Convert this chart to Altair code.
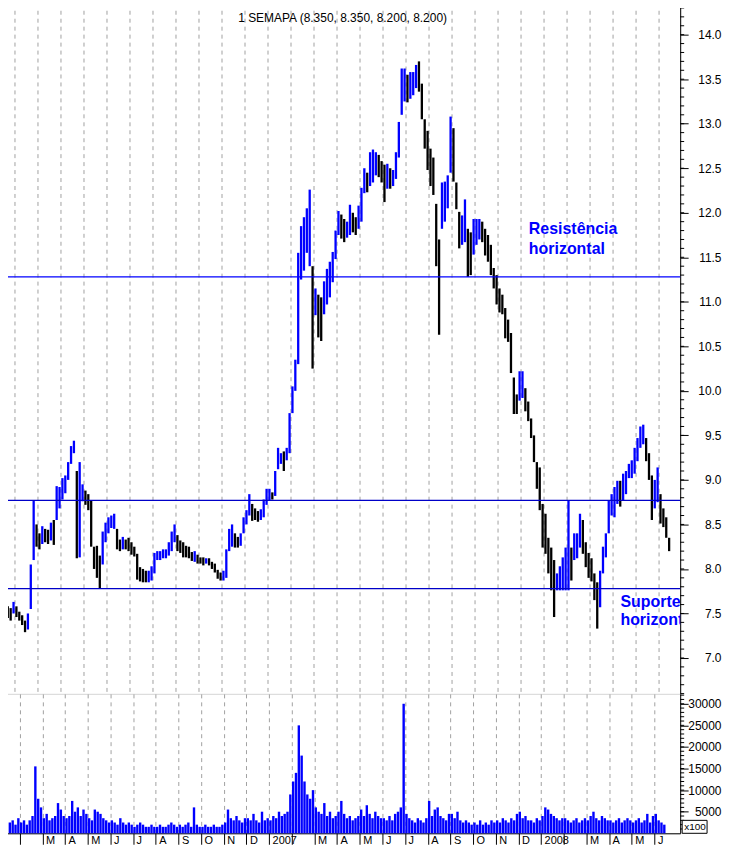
import json
import altair as alt
import pandas as pd

# ---------------- data ----------------
# one slot = 1/8 month; slot k is centred at month (k+0.5)/8, month 0 = Jan 2006
FIRST_SLOT = 4
SLOTS_PER_MONTH = 8

LOW = [
    7.50, 7.45, 7.42, 7.50,                                   # Jan 06
    7.46, 7.42, 7.37, 7.29, 7.32, 7.55, 8.10, 8.25,           # Feb 06
    8.22, 8.28, 8.30, 8.28, 8.32, 8.27, 8.55, 8.68,           # Mar 06
    8.78, 8.85, 9.00, 9.18, 9.30, 8.12, 8.13, 8.76,           # Apr 06
    8.72, 8.66, 8.25, 8.00, 7.90, 7.78, 8.05, 8.30,           # May 06
    8.40, 8.46, 8.45, 8.22, 8.20, 8.22, 8.22, 8.20,           # Jun 06
    8.16, 8.14, 7.88, 7.86, 7.85, 7.85, 7.85, 7.87,           # Jul 06
    7.95, 8.10, 8.10, 8.12, 8.12, 8.15, 8.20, 8.30,           # Aug 06
    8.20, 8.18, 8.13, 8.13, 8.12, 8.09, 8.08, 8.06,           # Sep 06
    8.06, 8.04, 8.06, 8.04, 8.00, 7.96, 7.89, 7.87,           # Oct 06
    7.87, 7.90, 8.20, 8.25, 8.24, 8.24, 8.26, 8.40,           # Nov 06
    8.50, 8.60, 8.54, 8.55, 8.53, 8.55, 8.58, 8.72,           # Dec 06
    8.77, 8.78, 8.82, 9.12, 9.18, 9.10, 9.22, 9.30,           # Jan 07
    9.75, 10.00, 10.30, 11.25, 11.35, 11.55, 11.40, 10.25,    # Feb 07
    10.85, 10.60, 10.56, 10.86, 10.97, 11.05, 11.22, 11.48,   # Mar 07
    11.75, 11.71, 11.67, 11.72, 11.75, 11.78, 11.75, 11.82,   # Apr 07
    11.90, 12.22, 12.23, 12.30, 12.34, 12.42, 12.40, 12.34,   # May 07
    12.12, 12.27, 12.27, 12.30, 12.38, 12.62, 13.10, 13.25,   # Jun 07
    13.24, 13.28, 13.32, 13.40, 13.36, 13.05, 12.72, 12.48,   # Jul 07
    12.30, 12.20, 11.40, 10.63, 11.82, 11.90, 12.05, 12.45,   # Aug 07
    12.35, 12.04, 11.60, 11.64, 11.67, 11.28, 11.30, 11.53,   # Sep 07
    11.64, 11.70, 11.67, 11.52, 11.45, 11.30, 11.15, 10.97,   # Oct 07
    10.88, 10.86, 10.59, 10.55, 10.20, 9.74, 9.74, 9.89,      # Nov 07
    9.92, 9.77, 9.66, 9.47, 9.20, 8.90, 8.66, 8.24,           # Dec 07
    8.17, 7.95, 7.76, 7.46, 7.76, 7.76, 7.76, 7.76,           # Jan 08
    7.76, 7.87, 8.10, 8.12, 8.24, 8.17, 8.02, 7.90,           # Feb 08
    7.86, 7.65, 7.33, 7.57, 7.95, 8.13, 8.40, 8.60,           # Mar 08
    8.58, 8.73, 8.70, 8.77, 8.84, 9.02, 9.02, 9.07,           # Apr 08
    9.21, 9.36, 9.40, 9.21, 9.00, 8.55, 8.68, 8.75,           # May 08
    8.51, 8.47, 8.35, 8.20,                                   # Jun 08
]

HIGH = [
    7.68, 7.58, 7.56, 7.63,
    7.58, 7.52, 7.48, 7.42, 7.50, 8.05, 8.77, 8.50,
    8.40, 8.48, 8.45, 8.44, 8.52, 8.55, 8.93, 8.92,
    9.02, 9.05, 9.20, 9.38, 9.44, 9.10, 9.20, 8.95,
    8.88, 8.84, 8.77, 8.25, 8.26, 8.15, 8.42, 8.52,
    8.58, 8.60, 8.62, 8.45, 8.33, 8.36, 8.33, 8.35,
    8.30, 8.25, 8.17, 8.02, 8.00, 7.98, 7.98, 8.03,
    8.18, 8.20, 8.20, 8.22, 8.22, 8.30, 8.42, 8.50,
    8.38, 8.32, 8.30, 8.26, 8.25, 8.19, 8.20, 8.16,
    8.13, 8.13, 8.12, 8.12, 8.08, 8.06, 7.99, 7.96,
    7.98, 8.22, 8.45, 8.50, 8.40, 8.36, 8.40, 8.58,
    8.66, 8.84, 8.73, 8.68, 8.65, 8.67, 8.78, 8.90,
    8.90, 8.86, 9.10, 9.36, 9.30, 9.32, 9.36, 9.75,
    10.05, 10.35, 11.55, 11.85, 11.95, 12.05, 12.26, 11.40,
    11.15, 11.08, 11.05, 11.23, 11.37, 11.45, 11.56, 11.80,
    12.02, 11.98, 11.93, 11.90, 12.09, 12.00, 11.95, 12.08,
    12.28, 12.50, 12.45, 12.68, 12.71, 12.68, 12.65, 12.58,
    12.54, 12.55, 12.50, 12.48, 12.68, 13.02, 13.62, 13.62,
    13.55, 13.58, 13.58, 13.66, 13.70, 13.45, 13.05, 12.92,
    12.72, 12.62, 12.10, 11.70, 12.34, 12.35, 12.42, 13.08,
    12.95, 12.34, 12.01, 11.97, 12.15, 11.82, 11.78, 11.93,
    11.93, 11.93, 11.90, 11.82, 11.75, 11.64, 11.38, 11.30,
    11.15, 11.08, 10.93, 10.80, 10.65, 10.15, 9.96, 10.22,
    10.22, 10.03, 9.88, 9.69, 9.50, 9.20, 9.14, 8.73,
    8.62, 8.35, 8.24, 8.10, 7.95, 8.03, 8.13, 8.24,
    8.77, 8.24, 8.40, 8.40, 8.62, 8.55, 8.30, 8.18,
    8.12, 7.95, 7.85, 7.98, 8.25, 8.40, 8.77, 8.84,
    8.92, 8.99, 8.99, 9.07, 9.10, 9.18, 9.22, 9.36,
    9.47, 9.60, 9.62, 9.47, 9.30, 9.05, 9.00, 9.14,
    8.84, 8.68, 8.58, 8.35,
]

# volume in units of 100 shares
VOLUME = [
    2500, 3000, 2000, 3500,
    2500, 3000, 2000, 3000, 4000, 15500, 8000, 6000,
    3500, 4500, 3000, 3500, 4000, 7000, 5500, 4000,
    3500, 4000, 7500, 5000, 6000, 4000, 5500, 4500,
    3500, 3000, 5500, 5000, 4500, 3500, 3000, 2500,
    3000, 2500, 2000, 3500, 2500, 2000, 2500, 2000,
    1500, 2000, 2500, 2000, 1500, 1500, 2000, 1500,
    1500, 2000, 1500, 1500, 2000, 2500, 2000, 1500,
    2000, 1500, 2000, 2500, 1500, 6000, 2000, 1500,
    1500, 2000, 1500, 1500, 2000, 1500, 1500, 2000,
    2500, 5500, 3500, 3000, 4000, 3000, 2500, 3500,
    3500, 3000, 4500, 3000, 2500, 5000, 3000, 3500,
    3000, 4000, 3500, 5000, 4000, 4500, 5000, 9000,
    12000, 14000, 25000, 18000, 12000, 9000, 8000, 10000,
    6000, 5000, 4500, 7000, 4000, 5000, 3500, 4000,
    5000, 7500, 4500, 3500, 4000, 3000, 3500, 4000,
    5500, 4000, 6500, 4500, 3500, 5000, 4000, 3500,
    3500, 3000, 4000, 3000, 4500, 5000, 6000, 30000,
    4500, 3500, 3000, 2500, 3500, 3000, 2500, 3500,
    7500, 4000, 5500, 6000, 4000, 3500, 3000, 4500,
    4500, 3500, 5000, 3000, 2500, 3000, 2500, 2000,
    2500, 2000, 3000, 2000, 2500, 2000, 3000, 2500,
    3000, 2500, 3500, 3000, 2500, 3500, 3000, 4500,
    5000, 3500, 4000, 3000, 3000, 2500, 3500, 3000,
    4000, 6000, 5500, 4500, 4000, 3500, 3000, 3500,
    3500, 3000, 2500, 3000, 3500, 2500, 3000, 3500,
    3000, 4000, 5000, 3500, 3000, 4000, 3500, 3000,
    3000, 2500, 3000, 3500, 2500, 3000, 3500, 3000,
    2500, 3000, 3500, 2500, 3000, 4500, 2500, 4000,
    4500, 3000, 2500, 2000,
]

LEVELS = [11.28, 8.77, 7.78]
LEVEL_COLORS = ["#0000ff", "#0000c8", "#0000c8"]

MONTH_TICKS = list(range(1, 30))
MONTH_LABELS = ["2006", "", "M", "A", "M", "J", "J", "A", "S", "O", "N", "D",
                "2007", "", "M", "A", "M", "J", "J", "A", "S", "O", "N", "D",
                "2008", "", "M", "A", "M", "J"]

PRICE_MAJOR = [7.0, 7.5, 8.0, 8.5, 9.0, 9.5, 10.0, 10.5, 11.0, 11.5,
               12.0, 12.5, 13.0, 13.5, 14.0]
PRICE_MINOR = [round(6.6 + 0.1 * i, 1) for i in range(78)]
VOL_MAJOR = [5000, 10000, 15000, 20000, 25000, 30000]
VOL_MINOR = list(range(1000, 32001, 1000))

TITLE = "1 SEMAPA (8.350, 8.350, 8.200, 8.200)"
NOTES = [("Resistência", 23.34, 11.76), ("horizontal", 23.34, 11.54),
         ("Suporte", 27.32, 7.57), ("horizontal", 27.32, 7.37)]

X_DOMAIN = [0.437, 29.918]
PRICE_DOMAIN = [6.597, 14.358]
VOL_DOMAIN = [0, 32290]

# ---------------- tables ----------------
rows = []
prev_mid = None
for i, (lo, hi, v) in enumerate(zip(LOW, HIGH, VOLUME)):
    k = FIRST_SLOT + i
    mid = (lo + hi) / 2
    direction = "up" if (prev_mid is None or mid >= prev_mid) else "down"
    prev_mid = mid
    rows.append({"m": (k + 0.5) / SLOTS_PER_MONTH, "lo": lo, "hi": hi,
                 "vol": v, "dir": direction})
df = pd.DataFrame(rows)
levels_df = pd.DataFrame({"level": LEVELS, "col": LEVEL_COLORS})
notes_df = pd.DataFrame(NOTES, columns=["txt", "m", "p"])
title_df = pd.DataFrame({"t": [TITLE]})
grid_df = pd.DataFrame({"m": MONTH_TICKS})
pminor_df = pd.DataFrame({"v": PRICE_MINOR})
vminor_df = pd.DataFrame({"v": VOL_MINOR})

FONT = "Liberation Sans"
W = 681
H_PRICE = 694
H_VOL = 140

xscale = alt.Scale(domain=X_DOMAIN, nice=False, zero=False)
pscale = alt.Scale(domain=PRICE_DOMAIN, nice=False, zero=False)
vscale = alt.Scale(domain=VOL_DOMAIN, nice=False, zero=True)


def right_axis(values, fmt):
    return alt.Axis(orient="right", values=values, format=fmt, grid=False, title=None,
                    tickSize=8, labelAlign="right", labelPadding=33, labelFont=FONT,
                    labelFontSize=12, labelColor="#000000", tickColor="#000000",
                    domainColor="#000000", labelOverlap=False, labelFlush=False)


P_AXIS = right_axis(PRICE_MAJOR, ".1f")
V_AXIS = right_axis(VOL_MAJOR, "d")


def py(field):
    return alt.Y(field, type="quantitative", scale=pscale, axis=P_AXIS)


grid_top = alt.Chart(grid_df).mark_rule(strokeDash=[4, 4], color="#a0a0a0", strokeWidth=1).encode(
    x=alt.X("m:Q", scale=xscale, axis=None))

bars = alt.Chart(df).mark_rule(strokeWidth=2.3).encode(
    x=alt.X("m:Q", scale=xscale, axis=None),
    y=py("lo"),
    y2="hi:Q",
    color=alt.Color("dir:N", scale=alt.Scale(domain=["up", "down"],
                                              range=["#0000ff", "#000000"]), legend=None),
)

pminor = alt.Chart(pminor_df).mark_rule(color="#000000", strokeWidth=1, clip=False).encode(
    y=py("v"), x=alt.value(W), x2=alt.value(W + 4))

lines = alt.Chart(levels_df).mark_rule(strokeWidth=1.2).encode(
    y=py("level"),
    color=alt.Color("col:N", scale=None),
)

notes = alt.Chart(notes_df).mark_text(
    align="left", baseline="alphabetic", font=FONT, fontSize=16,
    fontWeight="bold", color="#0000ff", clip=True
).encode(x=alt.X("m:Q", scale=xscale, axis=None), y=py("p"), text="txt:N")

title = alt.Chart(title_df).mark_text(
    align="center", baseline="alphabetic", font=FONT, fontSize=12, color="#000000"
).encode(x=alt.value(342), y=alt.value(19), text="t:N")

price = alt.layer(grid_top, bars, pminor, lines, notes, title).properties(
    width=W, height=H_PRICE)

x_bot = alt.X("m:Q", scale=xscale,
              axis=alt.Axis(values=MONTH_TICKS, grid=True, gridDash=[4, 4],
                            gridColor="#a0a0a0", gridWidth=1, title=None,
                            labelExpr=f"{json.dumps(MONTH_LABELS)}[datum.value]",
                            tickSize=11, tickColor="#000000", domainColor="#000000",
                            labelAlign="left", labelBaseline="top", labelPadding=-10,
                            labelOffset=3, labelFont=FONT, labelFontSize=11,
                            labelColor="#000000", labelFlush=False, labelOverlap=False))

vol_bars = alt.Chart(df).mark_bar(size=2.4, color="#0000ff").encode(
    x=x_bot, y=alt.Y("vol:Q", scale=vscale, axis=V_AXIS))

vminor = alt.Chart(vminor_df).mark_rule(color="#000000", strokeWidth=1, clip=False).encode(
    y=alt.Y("v:Q", scale=vscale, axis=V_AXIS),
    x=alt.value(W), x2=alt.value(W + 4))

box = alt.Chart(title_df).mark_rect(fill="#ffffff", stroke="#000000", strokeWidth=1).encode(
    x=alt.value(683), x2=alt.value(708), y=alt.value(127), y2=alt.value(140))
box_txt = alt.Chart(title_df).mark_text(
    text="x100", align="left", baseline="middle", font=FONT, fontSize=10, color="#000000"
).encode(x=alt.value(685), y=alt.value(134))

volume = alt.layer(vol_bars, vminor, box, box_txt).properties(width=W, height=H_VOL)

chart = alt.vconcat(price, volume, spacing=0, bounds="flush").properties(
    padding={"left": -8, "top": -8, "right": 0, "bottom": 0}
).configure_view(strokeWidth=0).configure(background="#ffffff")

chart.save("out.html", embed_options={"renderer": "svg", "actions": False})
